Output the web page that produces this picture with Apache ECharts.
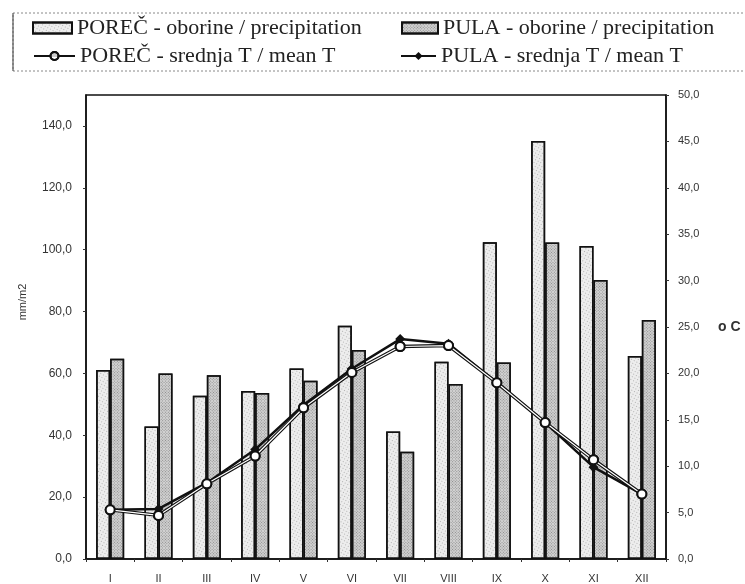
<!DOCTYPE html>
<html>
<head>
<meta charset="utf-8">
<script src="https://cdn.jsdelivr.net/npm/echarts@6/dist/echarts.min.js"></script>
<style>html,body{margin:0;padding:0;background:#fff}#c{width:745px;height:584px}</style>
</head>
<body>
<div id="c"></div>
<script>
var months = ['I','II','III','IV','V','VI','VII','VIII','IX','X','XI','XII'];
var porecPrecip = [61.1, 42.8, 52.8, 54.3, 61.6, 75.4, 41.2, 63.8, 102.4, 135.1, 101.2, 65.6];
var pulaPrecip  = [64.7, 60.0, 59.4, 53.7, 57.6, 67.6, 34.7, 56.6, 63.5, 102.3, 90.2, 77.3];
var porecTemp   = [5.3, 4.7, 8.1, 11.1, 16.3, 20.1, 22.9, 23.0, 19.0, 14.7, 10.7, 7.0];
var pulaTemp    = [5.3, 5.4, 8.2, 11.8, 16.6, 20.5, 23.7, 23.2, 19.0, 14.7, 9.9, 7.0];
var names = ['POREČ - oborine / precipitation', 'PULA - oborine / precipitation',
             'POREČ - srednja T / mean T', 'PULA - srednja T / mean T'];

function fmt(v){ return v.toFixed(1).replace('.', ','); }

var chart = echarts.init(document.getElementById('c'), null, {renderer:'canvas'});
var legendText = {fontFamily:'Liberation Serif', fontSize:22, color:'#222'};
function leg(name, left, top, w, h, icon){
  var o = {data:[name], left:left, top:top, itemWidth:w, itemHeight:h, padding:0,
          textStyle:legendText, selectedMode:false};
  if (icon) o.icon = icon;
  return o;
}
var porecDecal = {symbol:'circle', symbolSize:1, color:'#a0a0a0', dashArrayX:[1,2], dashArrayY:[1,2], rotation:0.5};
var pulaDecal = {symbol:'rect', symbolSize:1, color:'#8c8c8c', dashArrayX:[1,1], dashArrayY:[1,1], rotation:Math.PI/4};

chart.setOption({
  animation:false,
  backgroundColor:'#fff',
  aria:{enabled:true, decal:{show:true}},
  graphic:[{type:'rect', shape:{x:13,y:13,width:740,height:58},
            style:{fill:null, stroke:'#888', lineWidth:1, lineDash:[2,2]}},
           {type:'line', shape:{x1:13,y1:13,x2:13,y2:71}, style:{stroke:'#555', lineWidth:1.2}}],
  legend:[
    leg(names[0], 32, 17, 39, 11, 'rect'),
    leg(names[1], 401, 17, 36, 11, 'rect'),
    leg(names[2], 33, 45, 41, 10),
    leg(names[3], 400, 45, 35, 10)
  ],
  grid:{left:86, right:79, top:95, bottom:25, show:true, borderColor:'#111', borderWidth:1.5},
  xAxis:{type:'category', data:months,
    axisLine:{lineStyle:{color:'#111', width:1.5}},
    axisTick:{show:true, length:3, lineStyle:{color:'#333'}},
    axisLabel:{color:'#333', fontFamily:'Liberation Sans', fontSize:11, margin:14}},
  yAxis:[
    {type:'value', min:0, max:150, interval:20, position:'left',
     name:'mm/m2', nameLocation:'middle', nameGap:58, nameRotate:90,
     nameTextStyle:{fontFamily:'Liberation Sans', fontSize:11, color:'#333', padding:[0,0,0,50]},
     axisLine:{show:true, lineStyle:{color:'#111', width:1.5}},
     axisTick:{show:true, length:3, lineStyle:{color:'#333'}},
     splitLine:{show:false},
     axisLabel:{showMaxLabel:false, formatter:fmt, color:'#333', fontFamily:'Liberation Sans', fontSize:12, margin:14}},
    {type:'value', min:0, max:50, interval:5, position:'right',
     name:'o C', nameLocation:'middle', nameGap:52, nameRotate:0,
     nameTextStyle:{fontFamily:'Liberation Sans', fontSize:14, fontWeight:'bold', color:'#333', align:'left'},
     axisLine:{show:true, lineStyle:{color:'#111', width:1.5}},
     axisTick:{show:true, length:3, lineStyle:{color:'#333'}},
     splitLine:{show:false},
     axisLabel:{formatter:fmt, color:'#333', fontFamily:'Liberation Sans', fontSize:11, margin:12}}
  ],
  series:[
    {name:names[0], type:'bar', data:porecPrecip, barWidth:14, barGap:'0%', yAxisIndex:0,
     itemStyle:{color:'#ededed', borderColor:'#111', borderWidth:1.5, decal:porecDecal}},
    {name:names[1], type:'bar', data:pulaPrecip, barWidth:14, barGap:'0%', yAxisIndex:0,
     itemStyle:{color:'#d2d2d2', borderColor:'#111', borderWidth:1.5, decal:pulaDecal}},
    {name:names[3], type:'line', data:pulaTemp, yAxisIndex:1, symbol:'diamond', symbolSize:10,
     lineStyle:{color:'#111', width:2.5}, itemStyle:{color:'#111'}, z:3},
    {name:names[2], type:'line', data:porecTemp, yAxisIndex:1, symbol:'emptyCircle', symbolSize:9,
     lineStyle:{color:'#111', width:3.5}, itemStyle:{color:'#111', borderWidth:1.5}, z:4},
    {name:'porec-core', type:'line', data:porecTemp, yAxisIndex:1, symbol:'emptyCircle', symbolSize:9,
     silent:true, lineStyle:{color:'#fff', width:1.2}, itemStyle:{color:'#111', borderWidth:1.5}, z:5}
  ]
});
</script>
</body>
</html>
